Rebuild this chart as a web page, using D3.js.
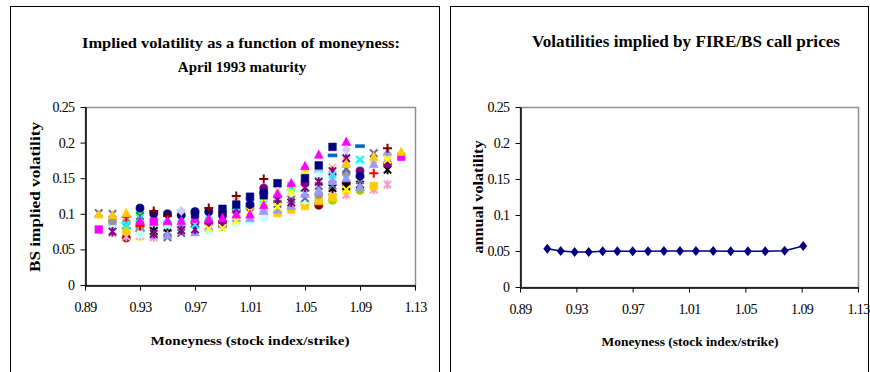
<!DOCTYPE html>
<html>
<head>
<meta charset="utf-8">
<script src="https://cdn.jsdelivr.net/npm/d3@7/dist/d3.min.js"></script>
<style>
body { margin: 0; background: #fff; }
svg { display: block; }
svg text { font-family: "Liberation Serif", "Times New Roman", "DejaVu Serif", serif; }
</style>
</head>
<body>
<script>
'use strict';

// ---- left chart: BS implied vol by moneyness, one array per trading day ([moneyness, vol]) ----
var day01 = [[0.93,.108],[0.94,.100],[0.95,.100],[0.96,.098],[0.97,.103],[0.98,.103],[0.99,.098],[1.01,.113],[1.02,.130],[1.09,.153]];
var day02 = [[0.90,.078],[0.94,.089],[1.12,.180]];
var day03 = [[0.98,.079],[0.99,.080],[1.00,.090],[1.01,.104],[1.02,.117],[1.03,.110],[1.04,.131],[1.05,.158],[1.08,.134],[1.11,.176]];
var day04 = [[0.92,.084],[0.93,.094],[0.95,.093],[0.96,.094],[0.97,.085],[0.98,.098],[1.00,.110],[1.01,.118],[1.02,.121],[1.03,.142],[1.04,.137],[1.07,.155],[1.09,.176]];
var day05 = [[0.91,.075],[0.94,.072],[0.96,.077],[0.97,.078],[1.03,.120],[1.04,.116],[1.05,.137],[1.06,.145],[1.07,.160],[1.08,.178]];
var day06 = [[0.94,.104],[0.95,.097],[0.98,.108],[0.99,.102],[1.00,.125],[1.02,.149],[1.11,.192]];
var day07 = [[0.97,.088],[0.98,.087],[0.99,.088],[1.00,.105],[1.01,.109],[1.02,.136],[1.05,.143],[1.09,.160],[1.11,.170]];
var day08 = [[0.94,.070],[0.95,.070],[0.96,.086],[0.97,.074],[0.98,.082],[0.99,.085],[1.00,.094],[1.01,.094],[1.02,.104],[1.03,.106],[1.04,.111],[1.05,.128],[1.06,.132],[1.07,.146],[1.08,.150],[1.09,.138],[1.10,.170],[1.11,.187]];
var day09 = [[0.93,.090],[0.95,.090],[0.96,.090],[0.97,.093],[0.98,.093],[0.99,.094],[1.00,.099],[1.01,.099],[1.02,.112],[1.03,.128],[1.04,.143],[1.05,.167],[1.06,.183],[1.08,.201]];
var day10 = [[0.91,.078],[0.93,.071],[0.94,.079],[0.95,.079],[0.96,.082],[0.98,.076],[1.00,.087],[1.01,.090],[1.02,.094],[1.04,.126],[1.05,.119],[1.06,.153],[1.09,.168]];
var day11 = [[0.91,.090],[0.92,.088],[0.93,.079],[0.94,.083],[0.95,.083],[1.06,.127],[1.08,.157]];
var day12 = [[0.92,.076],[1.02,.098],[1.03,.101],[1.04,.106],[1.05,.111],[1.06,.118],[1.07,.123],[1.08,.133],[1.10,.139]];
var day13 = [[0.97,.099],[0.99,.107],[1.00,.113],[1.01,.124],[1.02,.126],[1.03,.143],[1.05,.150],[1.06,.168],[1.07,.194]];
var day14 = [[0.92,.096],[0.93,.083],[1.10,.157]];
var day15 = [[0.90,.101],[0.91,.100],[0.95,.067],[0.96,.073],[1.03,.114],[1.04,.120],[1.05,.122],[1.06,.139],[1.07,.140],[1.08,.163],[1.09,.147],[1.10,.185]];
var day16 = [[0.91,.073],[0.92,.068],[0.93,.069],[0.94,.067],[1.07,.130],[1.08,.127],[1.10,.134],[1.11,.141]];
var day17 = [[1.05,.115],[1.07,.119],[1.09,.133]];
var day18 = [[0.94,.076],[0.95,.073],[1.07,.136],[1.08,.139],[1.09,.141],[1.11,.162]];
var day19 = [[0.96,.104],[1.08,.190]];
var day20 = [[1.07,.182],[1.09,.195]];
var day21 = [[0.92,.066],[1.06,.112],[1.08,.143]];
var day22 = [[0.90,.099],[0.91,.098],[0.92,.101],[1.08,.170],[1.10,.180],[1.12,.187]];
var day23 = [[0.92,.080],[0.93,.076],[0.99,.083]];
var day24 = [[0.93,.085]];
var day25 = [[0.93,.097],[0.94,.097]];
var day26 = [[0.92,.071],[0.93,.067]];
var day27 = [[0.91,.083],[0.94,.093],[0.97,.096],[1.00,.118],[1.03,.133],[1.05,.162],[1.07,.165],[1.08,.174],[1.10,.176],[1.11,.181]];
var day28 = [[0.91,.086],[0.93,.102],[0.95,.087],[0.98,.090],[1.01,.121],[1.03,.124],[1.06,.160],[1.09,.171]];
var day29 = [[0.92,.092],[0.94,.086],[0.96,.101],[0.99,.091],[1.02,.108],[1.04,.139],[1.06,.123],[1.07,.150],[1.09,.157]];
var day30 = [[0.95,.076],[0.97,.081],[1.00,.102],[1.03,.117],[1.05,.132],[1.06,.115],[1.07,.127]];

var smileData = [day27, day28, day29, day30, day26, day25, day24, day23, day21, day17, day16, day12, day11, day10,
	day18, day15, day14, day08, day07, day05, day04, day03, day01, day02, day06, day09, day13, day19, day20, day22];

// marker and colour per day, same order as smileData (Excel-style automatic markers)
var styleList = [
	['x', '#ffcc99'], ['circle', '#99ccff'], ['star', '#cc99ff'], ['plus', '#33cccc'],
	['square', '#ffff99'], ['x', '#00a000'], ['square', '#993300'], ['plus', '#008080'], ['circle', '#800000'],
	['circle', '#99cc00'], ['star', '#ff99cc'], ['square', '#ffcc00'], ['circle', '#969696'], ['circle', '#ccffff'],
	['star', '#000000'], ['x', '#666699'], ['plus', '#ff0000'], ['triangle', '#9999ff'], ['circle', '#800080'],
	['star', '#800080'], ['x', '#00ffff'], ['x', '#ffff00'], ['circle', '#000080'], ['square', '#ff00ff'],
	['plus', '#800000'], ['triangle', '#ff00ff'], ['square', '#000080'], ['diamond', '#ccccff'], ['dash', '#0066cc'],
	['triangle', '#ffcc00']
];

var xTicks = [0.89, 0.93, 0.97, 1.01, 1.05, 1.09, 1.13];
var yTicks = [0, 0.05, 0.1, 0.15, 0.2, 0.25];

// ---- right chart: FIRE/BS implied vol ----
var fireMoneyness = [0.9094, 0.9189, 0.9288, 0.9388, 0.9487, 0.9591, 0.9700, 0.9809, 0.9922, 1.0036, 1.0149, 1.0272, 1.0396, 1.0518, 1.0641, 1.0779, 1.0911];
var fireVol = [0.0532, 0.0500, 0.0486, 0.0486, 0.0495, 0.0495, 0.0495, 0.0495, 0.0500, 0.0500, 0.0500, 0.0500, 0.0495, 0.0495, 0.0495, 0.0505, 0.0570];

var serif = '"Liberation Serif", "Times New Roman", "DejaVu Serif", serif';
var svg = d3.select('body').append('svg').attr('width', 870).attr('height', 372);

// panel frames
svg.append('rect').attr('x', 10.5).attr('y', 6.5).attr('width', 429).attr('height', 380)
	.attr('fill', 'none').attr('stroke', '#000');
svg.append('rect').attr('x', 450.5).attr('y', 6.5).attr('width', 418).attr('height', 380)
	.attr('fill', 'none').attr('stroke', '#000');

var fmtY = d => d === 0 ? '0' : String(+d.toFixed(2));

function axes(x, y) {
	var x0 = x.range()[0], x1 = x.range()[1], y0 = y.range()[0], y1 = y.range()[1];
	// plot area border
	svg.append('rect').attr('x', x0 + 0.5).attr('y', y1 + 0.5).attr('width', x1 - x0).attr('height', y0 - y1)
		.attr('fill', 'none').attr('stroke', '#909090').attr('stroke-width', 1.5);
	var gx = svg.append('g').attr('transform', 'translate(0,' + (y0 + 0.5) + ')')
		.call(d3.axisBottom(x).tickValues(xTicks).tickSize(5).tickSizeOuter(0).tickPadding(12).tickFormat(d3.format('.2f')));
	var gy = svg.append('g').attr('transform', 'translate(' + (x0 + 0.5) + ',0)')
		.call(d3.axisLeft(y).tickValues(yTicks).tickSize(5).tickSizeOuter(0).tickPadding(6).tickFormat(fmtY));
	[gx, gy].forEach(g => {
		g.attr('font-family', serif);
		g.select('.domain').attr('stroke', '#000').attr('stroke-width', 1.5);
		g.selectAll('line').attr('stroke', '#000');
		g.selectAll('text').attr('font-size', 14).attr('fill', '#000')
			.attr('font-family', serif).attr('letter-spacing', -0.6);
	});
}

function markerPath(shape) {
	if (shape === 'circle') return d3.symbol(d3.symbolCircle, 52)();
	if (shape === 'square') return 'M-3.8,-3.8H3.8V3.8H-3.8Z';
	if (shape === 'triangle') return 'M0,-4.8L4.4,3.6H-4.4Z';
	if (shape === 'diamond') return 'M0,-4.8L4.4,0L0,4.8L-4.4,0Z';
	if (shape === 'dash') return 'M-4.5,-1.5H4.5V1.5H-4.5Z';
	if (shape === 'plus') return 'M-4.5,0H4.5M0,-4.5V4.5';
	if (shape === 'x') return 'M-3.7,-3.7L3.7,3.7M-3.7,3.7L3.7,-3.7';
	return 'M-3.7,-3.7L3.7,3.7M-3.7,3.7L3.7,-3.7M0,-4.6V4.6';
}
var lineShapes = ['plus', 'x', 'star'];

// ---- left chart ----
var xL = d3.scaleLinear().domain([0.89, 1.13]).range([85, 415]);
var yL = d3.scaleLinear().domain([0, 0.25]).range([285, 107]);
axes(xL, yL);

smileData.forEach((series, i) => {
	var shape = styleList[i][0], color = styleList[i][1];
	var isLine = lineShapes.indexOf(shape) >= 0;
	svg.append('g').selectAll('path')
		.data(series)
		.enter()
		.append('path')
		.attr('transform', d => 'translate(' + xL(d[0]) + ',' + yL(d[1]) + ')')
		.attr('d', markerPath(shape))
		.attr('fill', isLine ? 'none' : color)
		.attr('stroke', color)
		.attr('stroke-width', isLine ? 2 : 0.6);
});

svg.append('text').attr('x', 241).attr('y', 48).attr('text-anchor', 'middle')
	.attr('font-size', 15).attr('font-weight', 'bold').attr('textLength', 318).attr('lengthAdjust', 'spacingAndGlyphs')
	.text('Implied volatility as a function of moneyness:');
svg.append('text').attr('x', 242).attr('y', 72).attr('text-anchor', 'middle')
	.attr('font-size', 15).attr('font-weight', 'bold')
	.text('April 1993 maturity');
svg.append('text').attr('x', 250).attr('y', 345).attr('text-anchor', 'middle')
	.attr('font-size', 13.5).attr('font-weight', 'bold').attr('textLength', 199).attr('lengthAdjust', 'spacingAndGlyphs')
	.text('Moneyness (stock index/strike)');
svg.append('text').attr('transform', 'translate(40,197) rotate(-90)').attr('text-anchor', 'middle')
	.attr('font-size', 15.5).attr('font-weight', 'bold').attr('textLength', 150).attr('lengthAdjust', 'spacingAndGlyphs')
	.text('BS implied volatility');

// ---- right chart ----
var xR = d3.scaleLinear().domain([0.89, 1.13]).range([520, 858]);
var yR = d3.scaleLinear().domain([0, 0.25]).range([287, 107]);
axes(xR, yR);

var fire = fireMoneyness.map((m, i) => [m, fireVol[i]]);
svg.append('path')
	.datum(fire)
	.attr('fill', 'none')
	.attr('stroke', '#000080')
	.attr('stroke-width', 1.5)
	.attr('d', d3.line().x(d => xR(d[0])).y(d => yR(d[1])));
svg.append('g').selectAll('path')
	.data(fire)
	.enter()
	.append('path')
	.attr('transform', d => 'translate(' + xR(d[0]) + ',' + yR(d[1]) + ')')
	.attr('d', 'M0,-5L4,0L0,5L-4,0Z')
	.attr('fill', '#000080');

svg.append('text').attr('x', 686).attr('y', 47).attr('text-anchor', 'middle')
	.attr('font-size', 16.5).attr('font-weight', 'bold').attr('textLength', 308).attr('lengthAdjust', 'spacingAndGlyphs')
	.text('Volatilities implied by FIRE/BS call prices');
svg.append('text').attr('x', 690).attr('y', 346).attr('text-anchor', 'middle')
	.attr('font-size', 13.5).attr('font-weight', 'bold').attr('textLength', 177).attr('lengthAdjust', 'spacingAndGlyphs')
	.text('Moneyness (stock index/strike)');
svg.append('text').attr('transform', 'translate(483,197) rotate(-90)').attr('text-anchor', 'middle')
	.attr('font-size', 14.5).attr('font-weight', 'bold').attr('textLength', 113).attr('lengthAdjust', 'spacingAndGlyphs')
	.text('annual volatility');
</script>
</body>
</html>
